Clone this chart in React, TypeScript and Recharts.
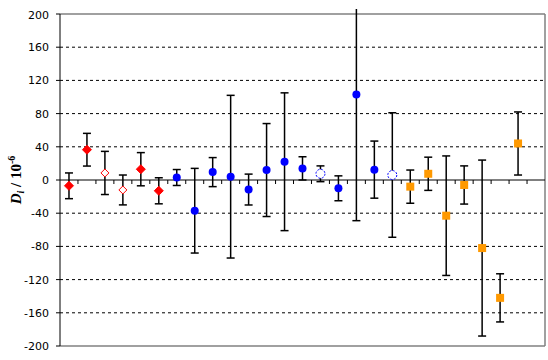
import { ScatterChart, Scatter, XAxis, YAxis, ErrorBar, ReferenceLine } from 'recharts';

// one value per measurement slot, left to right
const values = [-7, 36.5, 8.5, -12, 13, -13, 3, -37, 9.5, 4, -11.5, 12, 22, 14, 7.5, -10, 103, 12.5, 6, -8, 7.5, -43, -6, -82, -142, 44];
const errors = [15.5, 19.7, 26, 18, 20, 15.7, 9.6, 51, 17.5, 98, 18.6, 56, 83, 14, 9.5, 15, 152, 34.4, 75, 20, 20, 72, 23, 106, 29, 38];
const groups = [
  'redFilled', 'redFilled', 'redOpen', 'redOpen', 'redFilled', 'redFilled',
  'blueFilled', 'blueFilled', 'blueFilled', 'blueFilled', 'blueFilled', 'blueFilled', 'blueFilled', 'blueFilled',
  'blueOpen', 'blueFilled', 'blueFilled', 'blueFilled', 'blueOpen',
  'orange', 'orange', 'orange', 'orange', 'orange', 'orange', 'orange',
];
const slotCount = 27;
const slotBoundaries = Array.from({ length: slotCount - 1 }, (_, i) => i + 1);
const yTicks = [-200, -160, -120, -80, -40, 0, 40, 80, 120, 160, 200];
const gridValues = [-160, -120, -80, -40, 40, 80, 120, 160];

const points = values.map((v, i) => ({ x: i + 0.5, y: v, err: errors[i], group: groups[i] }));
const byGroup = (g: string) => points.filter((p) => p.group === g);
const boundaryPoints = slotBoundaries.map((x) => ({ x, y: 0 }));

const RED = '#ff0000';
const BLUE = '#0000ff';
const ORANGE = '#ff9900';

const Diamond = (filled: boolean) => (props: any) => {
  const { cx, cy } = props;
  const r = filled ? 4.5 : 4;
  return (
    <path
      d={`M${cx},${cy - r}L${cx + r},${cy}L${cx},${cy + r}L${cx - r},${cy}Z`}
      fill={filled ? RED : '#fff'}
      stroke={RED}
      strokeWidth={1}
    />
  );
};

const Dot = (filled: boolean) => (props: any) => {
  const { cx, cy } = props;
  return filled ? (
    <circle cx={cx} cy={cy} r={4} fill={BLUE} />
  ) : (
    <circle cx={cx} cy={cy} r={4.5} fill="#fff" stroke={BLUE} strokeWidth={1} strokeDasharray="2 1.5" />
  );
};

const Square = (props: any) => {
  const { cx, cy } = props;
  return <rect x={cx - 4} y={cy - 4} width={8} height={8} fill={ORANGE} />;
};

const Nothing = () => <g />;

const TickMark = (props: any) => {
  const { cx, cy } = props;
  return <line x1={cx} y1={cy} x2={cx} y2={cy + 4} stroke="#000" strokeWidth={1} />;
};

const AxisTitle = () => (
  <text
    x={21}
    y={171}
    transform="rotate(-90, 21, 171)"
    textAnchor="middle"
    fontFamily="'Liberation Serif', serif"
    fontWeight="bold"
    fontSize={15}
    fill="#000"
  >
    <tspan fontStyle="italic">D</tspan>
    <tspan fontStyle="italic" fontSize={10} dy={3}>i</tspan>
    <tspan dy={-3}> / 10</tspan>
    <tspan fontSize={10} dy={-6}>-6</tspan>
  </text>
);

const series = [
  { key: 'redFilled', shape: Diamond(true) },
  { key: 'redOpen', shape: Diamond(false) },
  { key: 'blueFilled', shape: Dot(true) },
  { key: 'blueOpen', shape: Dot(false) },
  { key: 'orange', shape: Square },
];

export default function App() {
  return (
    <div style={{ position: 'absolute', left: 0, top: 9, width: 548, height: 351, background: '#fff' }}>
      <ScatterChart width={548} height={351} margin={{ top: 5, right: 3, bottom: 14, left: 10 }}>
        <XAxis type="number" dataKey="x" domain={[0, slotCount]} hide allowDataOverflow />
        <YAxis
          type="number"
          dataKey="y"
          domain={[-200, 200]}
          allowDataOverflow
          ticks={yTicks}
          width={50}
          tickSize={4}
          tickMargin={7}
          stroke="#000"
          tick={{ fill: '#000', fontSize: 11, fontFamily: "'DejaVu Sans', Verdana, sans-serif" }}
          label={{ content: <AxisTitle /> }}
        />
        {gridValues.map((v) => (
          <ReferenceLine key={v} y={v} stroke="#000" strokeDasharray="3 3" />
        ))}
        <ReferenceLine y={200} stroke="#808080" strokeWidth={1.5} />
        <ReferenceLine y={-200} stroke="#808080" strokeWidth={1.5} />
        <ReferenceLine x={slotCount} stroke="#808080" strokeWidth={1.5} />
        <ReferenceLine y={0} stroke="#000" strokeWidth={1} />
        <Scatter data={boundaryPoints} shape={TickMark} isAnimationActive={false} />
        {/* error bars first, markers on top */}
        <Scatter data={points} shape={Nothing} isAnimationActive={false}>
          <ErrorBar dataKey="err" direction="y" width={4} stroke="#000" strokeWidth={1.5} />
        </Scatter>
        {series.map((s) => (
          <Scatter key={s.key} data={byGroup(s.key)} shape={s.shape} isAnimationActive={false} />
        ))}
      </ScatterChart>
    </div>
  );
}
